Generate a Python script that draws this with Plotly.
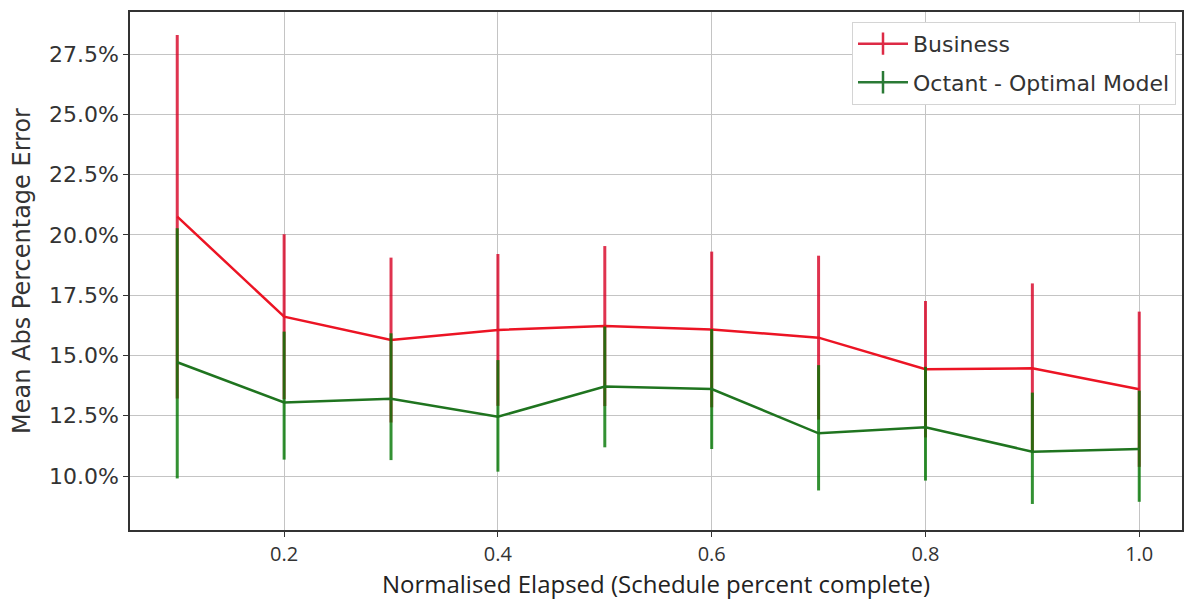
import plotly.graph_objects as go

# Normalised elapsed schedule (fraction complete)
elapsed = [0.1, 0.2, 0.3, 0.4, 0.5, 0.6, 0.7, 0.8, 0.9, 1.0]

# Business estimate: mean absolute percentage error (%) and its spread
business_mape = [20.76, 16.61, 15.64, 16.06, 16.22, 16.08, 15.74, 14.43, 14.47, 13.60]
business_err = [7.54, 3.42, 3.42, 3.15, 3.32, 3.23, 3.40, 2.83, 3.52, 3.22]

# Octant optimal model: mean absolute percentage error (%) and its spread
octant_mape = [14.72, 13.05, 13.20, 12.46, 13.71, 13.61, 11.77, 12.02, 11.01, 11.12]
octant_err_up = [5.56, 2.94, 2.72, 2.35, 2.49, 2.49, 2.83, 2.51, 2.45, 2.42]
octant_err_down = [4.82, 2.37, 2.54, 2.28, 2.52, 2.49, 2.37, 2.21, 2.17, 2.19]

series_names = ["Business", "Octant - Optimal Model"]

RED_LINE = "#ec1424"
RED_BAR = "rgba(215,0,35,0.8)"
GREEN_LINE = "#1f741f"
GREEN_BAR = "rgba(0,118,0,0.8)"

fig = go.Figure()

fig.add_trace(go.Scatter(
    x=elapsed, y=business_mape, mode="lines", showlegend=False,
    line=dict(color=RED_LINE, width=2.5),
    error_y=dict(type="data", array=business_err, symmetric=True,
                 color=RED_BAR, thickness=3, width=0),
))
fig.add_trace(go.Scatter(
    x=elapsed, y=octant_mape, mode="lines", showlegend=False,
    line=dict(color=GREEN_LINE, width=2.5),
    error_y=dict(type="data", array=octant_err_up, arrayminus=octant_err_down,
                 symmetric=False, color=GREEN_BAR, thickness=3, width=0),
))

# Legend entries: line with a vertical error tick
for name, col, grp in [(series_names[0], "#dd2a45", "a"), (series_names[1], "#2a7a35", "b")]:
    fig.add_trace(go.Scatter(
        x=[None], y=[None], mode="lines+markers", name=name, legendgroup=grp,
        line=dict(color=col, width=2.5),
        marker=dict(symbol="line-ns-open", size=16, line=dict(color=col, width=2.5)),
    ))

axis_common = dict(
    showline=True, linecolor="#333333", linewidth=1.5, mirror=True,
    showgrid=True, gridcolor="#c4c4c4", gridwidth=1,
    ticks="outside", ticklen=5, tickcolor="#333333", zeroline=False,
)

fig.update_layout(
    width=1185, height=600,
    margin=dict(l=130, r=1, t=12, b=70),
    paper_bgcolor="white", plot_bgcolor="white",
    font=dict(family="DejaVu Sans", color="#333333"),
    xaxis=dict(
        **axis_common,
        range=[0.0558, 1.040],
        tickvals=[0.2, 0.4, 0.6, 0.8, 1.0], tickformat=".1f",
        tickfont=dict(family="Open Sans", size=20, color="#333333"),
        title=dict(text="Normalised Elapsed (Schedule percent complete)",
                   font=dict(family="Open Sans", size=24, color="#222222"),
                   standoff=5),
    ),
    yaxis=dict(
        **axis_common,
        range=[7.76, 29.25],
        tick0=0, dtick=2.5, tickformat=".1f", ticksuffix="%",
        tickfont=dict(family="DejaVu Sans", size=22, color="#333333"),
        title=dict(text="Mean Abs Percentage Error",
                   font=dict(family="DejaVu Sans", size=24, color="#333333"),
                   standoff=12),
    ),
    legend=dict(
        x=0.9943, y=0.981, xanchor="right", yanchor="top",
        bgcolor="white", bordercolor="#d4d4d4", borderwidth=1,
        font=dict(family="DejaVu Sans", size=22, color="#333333"),
        tracegroupgap=7, itemwidth=50,
    ),
)

fig.write_html("out.html")
